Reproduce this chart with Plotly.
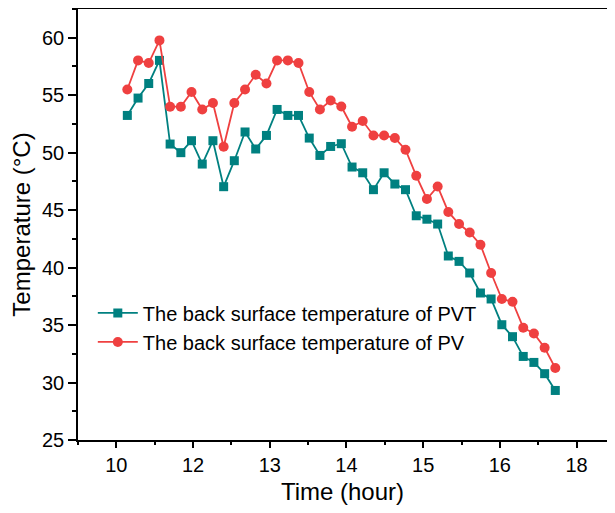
import plotly.graph_objects as go

# x positions on the (evenly spaced) time axis, in tick units
time_pos = [0.143, 0.283, 0.422, 0.562, 0.701, 0.841, 0.980, 1.120, 1.259, 1.399,
            1.538, 1.678, 1.817, 1.957, 2.096, 2.236, 2.375, 2.515, 2.654, 2.794,
            2.933, 3.073, 3.212, 3.352, 3.491, 3.631, 3.770, 3.910, 4.049, 4.189,
            4.328, 4.468, 4.607, 4.747, 4.886, 5.026, 5.165, 5.305, 5.444, 5.584,
            5.723]

pvt_temp = [53.24, 54.75, 56.02, 58.03, 50.75, 50.00, 51.04, 49.01, 51.04, 47.04,
            49.30, 51.80, 50.32, 51.50, 53.76, 53.24, 53.24, 51.27, 49.76, 50.54,
            50.78, 48.75, 48.25, 46.78, 48.25, 47.27, 46.78, 44.51, 44.21, 43.79,
            41.01, 40.54, 39.53, 37.79, 37.27, 35.03, 33.99, 32.27, 31.75, 30.77,
            29.31]

pv_temp = [55.50, 58.03, 57.80, 59.77, 54.00, 54.00, 55.28, 53.76, 54.32, 50.52,
           54.32, 55.50, 56.78, 56.02, 58.03, 58.03, 57.80, 55.28, 53.76, 54.54,
           54.02, 52.26, 52.75, 51.50, 51.50, 51.27, 50.26, 47.99, 45.97, 47.06,
           44.84, 43.79, 43.06, 41.99, 39.53, 37.27, 37.03, 34.77, 34.27, 33.03,
           31.26]

tick_vals = [0, 1, 2, 3, 4, 5, 6]
tick_text = ["10", "12", "13", "14", "15", "16", "18"]

TEAL = "#008080"
RED = "#EF4040"
FONT = "Liberation Sans, Arial, sans-serif"

fig = go.Figure()
fig.add_trace(go.Scatter(
    x=time_pos, y=pvt_temp, mode="lines+markers",
    name="The back surface temperature of PVT",
    line=dict(color=TEAL, width=1.8),
    marker=dict(symbol="square", size=9, color=TEAL),
))
fig.add_trace(go.Scatter(
    x=time_pos, y=pv_temp, mode="lines+markers",
    name="The back surface temperature of PV",
    line=dict(color=RED, width=1.8),
    marker=dict(symbol="circle", size=10, color=RED),
))

# the page adds an 8px body margin, so the figure is sized to fit the window
fig.update_layout(
    width=599, height=497,
    margin=dict(l=70, r=0, t=1, b=65),
    paper_bgcolor="white", plot_bgcolor="white",
    font=dict(family=FONT, color="black"),
    showlegend=True,
    legend=dict(x=0.028, y=0.34, xanchor="left", yanchor="top",
                font=dict(size=20, family=FONT), bgcolor="rgba(0,0,0,0)",
                tracegroupgap=0, itemwidth=40),
)

fig.update_xaxes(
    range=[-0.5, 6.397], tickmode="array", tickvals=tick_vals, ticktext=tick_text,
    showline=True, linecolor="black", linewidth=1.5, mirror=True,
    ticks="outside", ticklen=6, tickwidth=1.5, tickcolor="black",
    tickfont=dict(size=20), showgrid=False, zeroline=False, automargin=False,
    minor=dict(tickmode="linear", tick0=0.5, dtick=1, ticks="outside",
               ticklen=3, tickwidth=1.5, tickcolor="black", showgrid=False),
    title=dict(text="Time (hour)", font=dict(size=24), standoff=12),
)
fig.update_yaxes(
    range=[25, 62.5], tickmode="linear", tick0=25, dtick=5,
    showline=True, linecolor="black", linewidth=1.5, mirror=False,
    ticks="outside", ticklen=8, tickwidth=1.5, tickcolor="black",
    tickfont=dict(size=20), showgrid=False, zeroline=False, automargin=False,
    minor=dict(tickmode="linear", tick0=27.5, dtick=5, ticks="outside",
               ticklen=4, tickwidth=1.5, tickcolor="black", showgrid=False),
    title=dict(text="Temperature (°C)", font=dict(size=24), standoff=6),
)

fig.write_html("out.html")
